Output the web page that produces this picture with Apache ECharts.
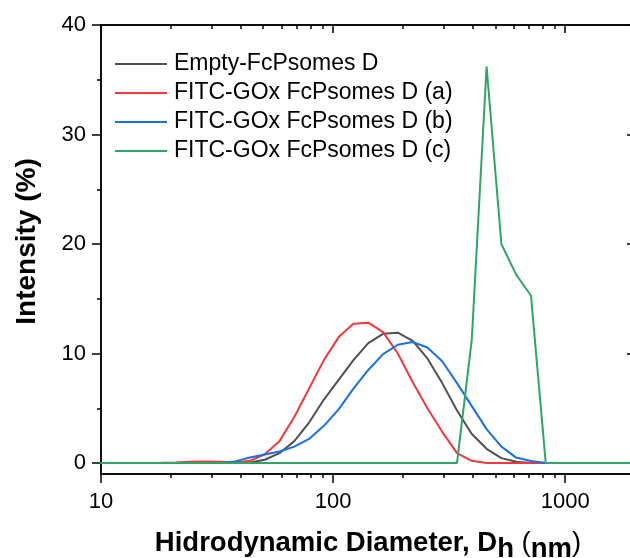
<!DOCTYPE html>
<html>
<head>
<meta charset="utf-8">
<script src="https://cdn.jsdelivr.net/npm/echarts@6/dist/echarts.min.js"></script>
<style>
  html, body { margin: 0; padding: 0; background: #fff; }
  #chart { width: 630px; height: 558px; }
</style>
</head>
<body>
<div id="chart"></div>
<script>
// DLS size bins (nm)
const sizes = [8.721, 10.10, 11.70, 13.54, 15.69, 18.17, 21.04, 24.36, 28.21, 32.67,
  37.84, 43.82, 50.75, 58.77, 68.06, 78.82, 91.28, 105.7, 122.4, 141.8,
  164.2, 190.1, 220.2, 255.0, 295.3, 342.0, 396.1, 458.7, 531.2, 615.1,
  712.4, 825.0, 955.4, 1106, 1281, 1484, 1718, 1990, 2305]

const emptyD = [0, 0, 0, 0, 0, 0, 0, 0, 0, 0,
  0, 0.05, 0.3, 0.9, 2.0, 3.7, 5.8, 7.6, 9.4, 10.95,
  11.8, 11.9, 11.15, 9.55, 7.3, 4.8, 2.65, 1.3, 0.45, 0.12,
  0, 0, 0, 0, 0, 0, 0, 0, 0]

const gOxA = [0, 0, 0, 0, 0, 0.02, 0.05, 0.12, 0.15, 0.12,
  0.04, 0.2, 0.8, 2.0, 4.2, 6.8, 9.4, 11.5, 12.73, 12.82,
  11.95, 10.0, 7.4, 5.0, 2.85, 0.9, 0.2, 0, 0, 0,
  0, 0, 0, 0, 0, 0, 0, 0, 0]

const gOxB = [0, 0, 0, 0, 0, 0, 0, 0, 0, 0,
  0.15, 0.5, 0.78, 1.05, 1.5, 2.2, 3.4, 4.9, 6.8, 8.5,
  9.95, 10.8, 11.05, 10.55, 9.3, 7.3, 5.2, 3.1, 1.5, 0.5,
  0.18, 0, 0, 0, 0, 0, 0, 0, 0]

const gOxC = [0, 0, 0, 0, 0, 0, 0, 0, 0, 0,
  0, 0, 0, 0, 0, 0, 0, 0, 0, 0,
  0, 0, 0, 0, 0, 0, 11.3, 36.2, 20.0, 17.2,
  15.3, 0, 0, 0, 0, 0, 0, 0, 0]

const seriesNames = ['Empty-FcPsomes D', 'FITC-GOx FcPsomes D (a)', 'FITC-GOx FcPsomes D (b)', 'FITC-GOx FcPsomes D (c)']
const seriesColors = ['#505050', '#f2383a', '#1b6fe0', '#2ca665']

const xMajor = [10, 100, 1000]
const xMinor = [20, 30, 40, 50, 60, 70, 80, 90, 200, 300, 400, 500, 600, 700, 800, 900, 2000]
const yMajor = [0, 10, 20, 30, 40]
const yMinor = [5, 15, 25, 35]

const font = 'Arial, "Liberation Sans", sans-serif'
const axisColor = '#000'

function pairs(arr) {
  return sizes.map(function (s, i) { return [s, arr[i]] })
}

// one axis per tick set, so major and minor ticks can have different lengths
function xAx(pos, ticks, len, inside, extra) {
  return Object.assign({
    type: 'log',
    logBase: 10,
    min: 10,
    max: 2000,
    position: pos,
    axisLine: {show: true, onZero: false, lineStyle: {color: axisColor, width: 1.5}},
    axisTick: {show: true, inside: inside, length: len, customValues: ticks, lineStyle: {color: axisColor, width: 1.5}},
    axisLabel: {show: false},
    splitLine: {show: false}
  }, extra || {})
}

function yAx(pos, ticks, len, inside, extra) {
  return Object.assign({
    type: 'value',
    min: -1,
    max: 40,
    position: pos,
    axisLine: {show: true, onZero: false, lineStyle: {color: axisColor, width: 1.5}},
    axisTick: {show: true, inside: inside, length: len, customValues: ticks, lineStyle: {color: axisColor, width: 1.5}},
    axisLabel: {show: false},
    splitLine: {show: false}
  }, extra || {})
}

const chart = echarts.init(document.getElementById('chart'))

chart.setOption({
  animation: false,
  backgroundColor: '#fff',
  grid: {left: 101, right: -5, top: 25, bottom: 84, containLabel: false, outerBoundsMode: 'none'},
  legend: {
    orient: 'vertical',
    left: 110,
    top: 47,
    icon: 'rect',
    itemWidth: 52,
    itemHeight: 2,
    itemGap: 5,
    data: seriesNames,
    textStyle: {fontFamily: font, fontSize: 23, color: '#000', lineHeight: 24, padding: [0, 0, 0, 2]}
  },
  xAxis: [
    xAx('bottom', xMajor, 9, false, {
      axisLabel: {
        show: true, customValues: xMajor, margin: 17, fontFamily: font, fontSize: 22, color: '#000',
        formatter: function (v) { return String(v) }
      },
      name: '{a|Hidrodynamic Diameter, D}{s|h}{p| (}{s|nm}{p|)}',
      nameLocation: 'middle',
      nameGap: 55,
      nameTextStyle: {
        rich: {
          a: {fontFamily: font, fontSize: 27.5, fontWeight: 'bold', color: '#000', lineHeight: 28, verticalAlign: 'top'},
          p: {fontFamily: font, fontSize: 27.5, color: '#000', lineHeight: 28, verticalAlign: 'top'},
          s: {fontFamily: font, fontSize: 27.5, fontWeight: 'bold', color: '#000', lineHeight: 28, padding: [6, 0, 0, 0], verticalAlign: 'top'}
        }
      }
    }),
    xAx('bottom', xMinor, 4, false),
    xAx('top', xMajor, 8, true),
    xAx('top', xMinor, 4, true)
  ],
  yAxis: [
    yAx('left', yMajor, 9, false, {
      axisLabel: {show: true, customValues: yMajor, margin: 15, fontFamily: font, fontSize: 22, color: '#000'},
      name: 'Intensity (%)',
      nameLocation: 'middle',
      nameGap: 60,
      nameTextStyle: {fontFamily: font, fontSize: 28, fontWeight: 'bold', color: '#000', padding: [0, 0, 0, 16]}
    }),
    yAx('left', yMinor, 4, false),
    yAx('right', yMajor, 8, true),
    yAx('right', yMinor, 4, true)
  ],
  series: [emptyD, gOxA, gOxB, gOxC].map(function (arr, i) {
    return {
      name: seriesNames[i],
      type: 'line',
      xAxisIndex: 0,
      yAxisIndex: 0,
      symbol: 'none',
      clip: true,
      color: seriesColors[i],
      lineStyle: {color: seriesColors[i], width: 2},
      data: pairs(arr)
    }
  })
})
</script>
</body>
</html>
